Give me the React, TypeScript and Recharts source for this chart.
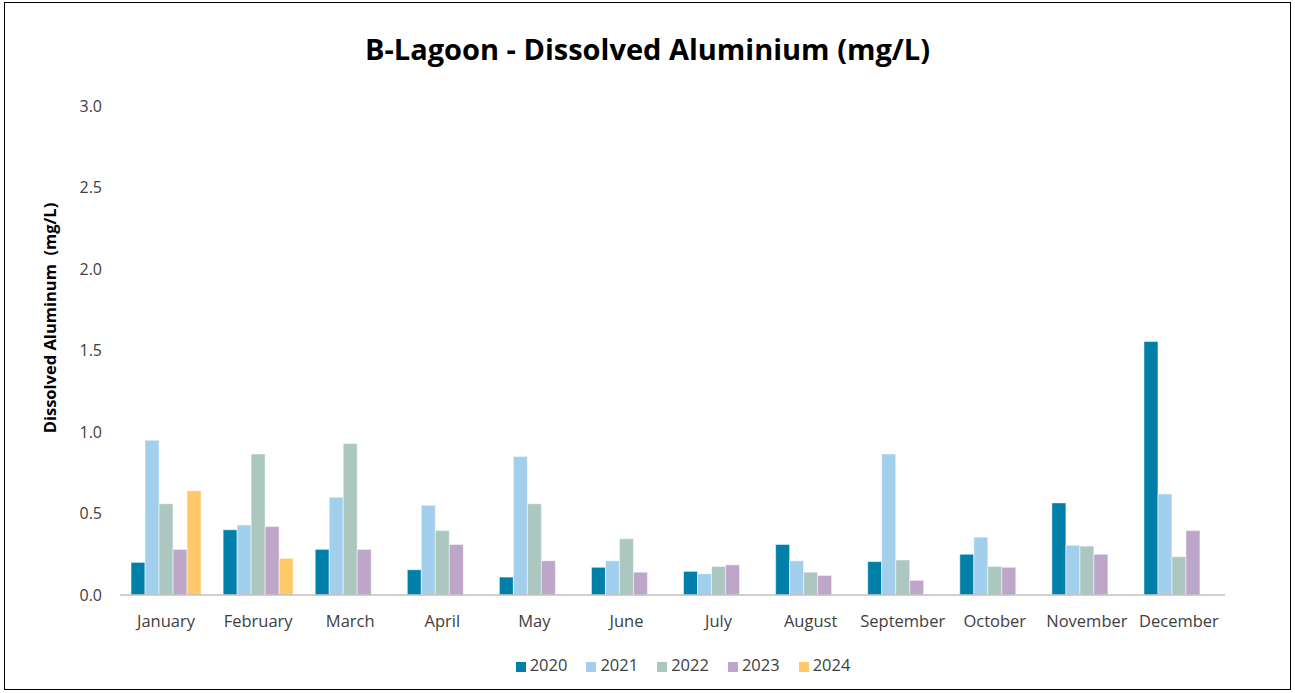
import { BarChart, Bar, XAxis, YAxis, Legend } from 'recharts';

const months = [
  'January', 'February', 'March', 'April', 'May', 'June',
  'July', 'August', 'September', 'October', 'November', 'December',
];

const y2020 = [0.20, 0.40, 0.28, 0.155, 0.11, 0.17, 0.145, 0.31, 0.205, 0.25, 0.565, 1.555];
const y2021 = [0.95, 0.43, 0.60, 0.55, 0.85, 0.21, 0.13, 0.21, 0.865, 0.355, 0.305, 0.62];
const y2022 = [0.56, 0.865, 0.93, 0.395, 0.56, 0.345, 0.175, 0.14, 0.215, 0.175, 0.30, 0.235];
const y2023 = [0.28, 0.42, 0.28, 0.31, 0.21, 0.14, 0.185, 0.12, 0.09, 0.17, 0.25, 0.395];
const y2024 = [0.64, 0.225, null, null, null, null, null, null, null, null, null, null];

const yTicks = [0, 0.5, 1, 1.5, 2, 2.5, 3];

const data = months.map((month, i) => ({
  month,
  y2020: y2020[i],
  y2021: y2021[i],
  y2022: y2022[i],
  y2023: y2023[i],
  y2024: y2024[i],
}));

const font = 'Open Sans, sans-serif';

export default function App() {
  return (
    <div style={{ position: 'fixed', top: 0, left: 0, width: 1295, height: 693, background: '#fff', fontFamily: font }}>
      <div
        style={{
          position: 'absolute', left: 4, top: 2, width: 1287, height: 688,
          border: '1px solid #000', boxSizing: 'border-box',
        }}
      />
      <div
        style={{
          position: 'absolute', top: 29, left: 0, width: 1295, textAlign: 'center',
          fontSize: 29, fontWeight: 'bold', color: '#000',
        }}
      >
        B-Lagoon - Dissolved Aluminium (mg/L)
      </div>
      {/* y axis title, rotated */}
      <div
        style={{
          position: 'absolute', left: 50, top: 318, width: 0, height: 0,
        }}
      >
        <div
          style={{
            position: 'absolute', left: -150, top: -12, width: 300, textAlign: 'center',
            transform: 'rotate(-90deg)', fontSize: 16.5, fontWeight: 'bold', color: '#000',
            whiteSpace: 'pre', lineHeight: '24px', zIndex: 2,
          }}
        >
          {'Dissolved Aluminum  (mg/L)'}
        </div>
      </div>
      <BarChart
        width={1295}
        height={693}
        data={data}
        margin={{ top: 106, right: 70, left: 60, bottom: 45 }}
        barCategoryGap="12%"
        barGap={0}
        style={{ position: 'absolute', top: 0, left: 0 }}
      >
        <XAxis
          dataKey="month"
          tickLine={false}
          axisLine={{ stroke: '#BFBFBF', strokeWidth: 1.5 }}
          tick={{ fontSize: 16.5, fill: '#404040', fontFamily: font }}
          height={30}
          interval={0}
          tickMargin={14}
        />
        <YAxis
          domain={[0, 3]}
          ticks={yTicks}
          tickFormatter={(v) => v.toFixed(1)}
          axisLine={false}
          tickLine={false}
          width={60}
          tickMargin={12}
          tick={{ fontSize: 16, fill: '#404040', fontFamily: font }}
        />
        <Legend
          verticalAlign="bottom"
          align="center"
          iconType="square"
          iconSize={10}
          wrapperStyle={{ top: 653, left: 110, fontSize: 16.5, color: '#404040' }}
          formatter={(value) => <span style={{ color: '#404040', marginRight: 9 }}>{value}</span>}
        />
        <Bar dataKey="y2020" name="2020" fill="#0080A8" stroke="#fff" strokeWidth={0.5} isAnimationActive={false} />
        <Bar dataKey="y2021" name="2021" fill="#A2CFEC" stroke="#fff" strokeWidth={0.5} isAnimationActive={false} />
        <Bar dataKey="y2022" name="2022" fill="#ABC7C0" stroke="#fff" strokeWidth={0.5} isAnimationActive={false} />
        <Bar dataKey="y2023" name="2023" fill="#BEA6CA" stroke="#fff" strokeWidth={0.5} isAnimationActive={false} />
        <Bar dataKey="y2024" name="2024" fill="#FFC869" stroke="#fff" strokeWidth={0.5} isAnimationActive={false} />
      </BarChart>
    </div>
  );
}
